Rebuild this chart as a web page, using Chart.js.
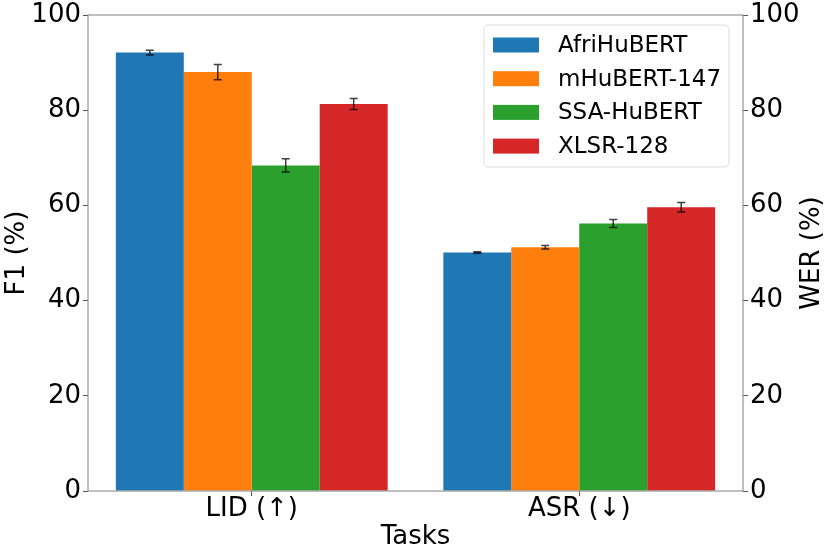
<!DOCTYPE html>
<html lang="en">
<head>
    <meta charset="UTF-8">
    <title>F1 / WER per Task</title>
    <script src="https://cdn.jsdelivr.net/npm/chart.js"></script>
    <style>
        html, body { margin: 0; padding: 0; background: #ffffff; }
        #wrap { width: 830px; height: 554px; }
    </style>
</head>
<body>
<div id="wrap"><canvas id="taskChart" width="830" height="554"></canvas></div>
<script>
    // Data
    const tasks = ['LID (\u2191)', 'ASR (\u2193)'];
    const models = ['AfriHuBERT', 'mHuBERT-147', 'SSA-HuBERT', 'XLSR-128'];
    const afriHubert = [92.1, 50.1];
    const mHubert147 = [88.0, 51.2];
    const ssaHubert = [68.4, 56.2];
    const xlsr128 = [81.3, 59.6];
    const afriHubertErr = [0.5, 0.15];
    const mHubert147Err = [1.6, 0.35];
    const ssaHubertErr = [1.4, 0.85];
    const xlsr128Err = [1.15, 1.0];
    const yTicks = [0, 20, 40, 60, 80, 100];

    const colors = ['#1f77b4', '#ff7f0e', '#2ca02c', '#d62728'];
    const seriesValues = [afriHubert, mHubert147, ssaHubert, xlsr128];
    const seriesErrors = [afriHubertErr, mHubert147Err, ssaHubertErr, xlsr128Err];
    const FONT = 'DejaVu Sans';

    // error bars with caps
    const errorBars = {
        id: 'errorBars',
        afterDatasetsDraw(chart) {
            const ctx = chart.ctx;
            const y = chart.scales.y;
            ctx.save();
            ctx.strokeStyle = 'rgba(0,0,0,0.75)';
            ctx.lineWidth = 1.5;
            chart.data.datasets.forEach((ds, i) => {
                const meta = chart.getDatasetMeta(i);
                meta.data.forEach((bar, j) => {
                    const v = ds.data[j];
                    const e = seriesErrors[i][j];
                    const y0 = y.getPixelForValue(v - e);
                    const y1 = y.getPixelForValue(v + e);
                    ctx.beginPath();
                    ctx.moveTo(bar.x, y0); ctx.lineTo(bar.x, y1);
                    ctx.moveTo(bar.x - 4, y0); ctx.lineTo(bar.x + 4, y0);
                    ctx.moveTo(bar.x - 4, y1); ctx.lineTo(bar.x + 4, y1);
                    ctx.stroke();
                });
            });
            ctx.restore();
        }
    };

    // axes frame, right axis title (reads bottom to top) and legend inside the plot
    const frameAndLegend = {
        id: 'frameAndLegend',
        afterDraw(chart) {
            const ctx = chart.ctx;
            const a = chart.chartArea;
            ctx.save();
            ctx.strokeStyle = '#808080';
            ctx.lineWidth = 1;
            ctx.strokeRect(a.left, a.top, a.right - a.left, a.bottom - a.top);

            ctx.save();
            ctx.translate(812, (a.top + a.bottom) / 2);
            ctx.rotate(-Math.PI / 2);
            ctx.font = '26px "' + FONT + '"';
            ctx.textAlign = 'center';
            ctx.textBaseline = 'middle';
            ctx.fillStyle = '#000';
            ctx.fillText('WER (%)', 0, 0);
            ctx.restore();

            const lx = 484, ly = 25, lw = 245, lh = 142, r = 5;
            ctx.beginPath();
            ctx.moveTo(lx + r, ly);
            ctx.arcTo(lx + lw, ly, lx + lw, ly + lh, r);
            ctx.arcTo(lx + lw, ly + lh, lx, ly + lh, r);
            ctx.arcTo(lx, ly + lh, lx, ly, r);
            ctx.arcTo(lx, ly, lx + lw, ly, r);
            ctx.closePath();
            ctx.fillStyle = 'rgba(255,255,255,0.8)';
            ctx.fill();
            ctx.strokeStyle = '#dddddd';
            ctx.stroke();

            ctx.font = '23px "' + FONT + '"';
            ctx.textBaseline = 'middle';
            chart.data.datasets.forEach((ds, i) => {
                const cy = 45 + i * 33.7;
                ctx.fillStyle = ds.backgroundColor;
                ctx.fillRect(493, cy - 7.5, 46, 15);
                ctx.fillStyle = '#000';
                ctx.fillText(ds.label, 558, cy + 1);
            });
            ctx.restore();
        }
    };

    new Chart(document.getElementById('taskChart'), {
        type: 'bar',
        data: {
            labels: tasks,
            datasets: models.map((m, i) => ({
                label: m,
                data: seriesValues[i],
                backgroundColor: colors[i],
                borderWidth: 0,
                barPercentage: 1.0,
                categoryPercentage: 0.83
            }))
        },
        options: {
            responsive: false,
            animation: false,
            layout: { padding: { top: 14.7, left: 0, right: 0, bottom: 0 } },
            plugins: { legend: { display: false }, tooltip: { enabled: false } },
            scales: {
                x: {
                    grid: { offset: false, drawOnChartArea: false, drawTicks: true, tickLength: 5, color: '#555' },
                    border: { display: false },
                    ticks: { color: '#000', font: { family: FONT, size: 26, lineHeight: 1 }, padding: 0 },
                    title: { display: true, text: 'Tasks', color: '#000', font: { family: FONT, size: 26 }, padding: { top: 0, bottom: 1 } },
                    afterFit(scale) { scale.height = 63; }
                },
                y: {
                    position: 'left',
                    min: 0, max: 100,
                    afterBuildTicks(scale) { scale.ticks = yTicks.map(v => ({ value: v })); },
                    grid: { drawOnChartArea: false, drawTicks: true, tickLength: 5, color: '#555' },
                    border: { display: false },
                    ticks: { color: '#000', font: { family: FONT, size: 26, lineHeight: 1 }, padding: 2 },
                    title: { display: true, text: 'F1 (%)', color: '#000', font: { family: FONT, size: 26 }, padding: { top: 2, bottom: 0 } },
                    afterFit(scale) { scale.width = 88; }
                },
                y1: {
                    position: 'right',
                    min: 0, max: 100,
                    afterBuildTicks(scale) { scale.ticks = yTicks.map(v => ({ value: v })); },
                    grid: { drawOnChartArea: false, drawTicks: true, tickLength: 5, color: '#555' },
                    border: { display: false },
                    ticks: { color: '#000', font: { family: FONT, size: 26, lineHeight: 1 }, padding: 2 },
                    title: { display: false },
                    afterFit(scale) { scale.width = 87; }
                }
            }
        },
        plugins: [errorBars, frameAndLegend]
    });
</script>
</body>
</html>
